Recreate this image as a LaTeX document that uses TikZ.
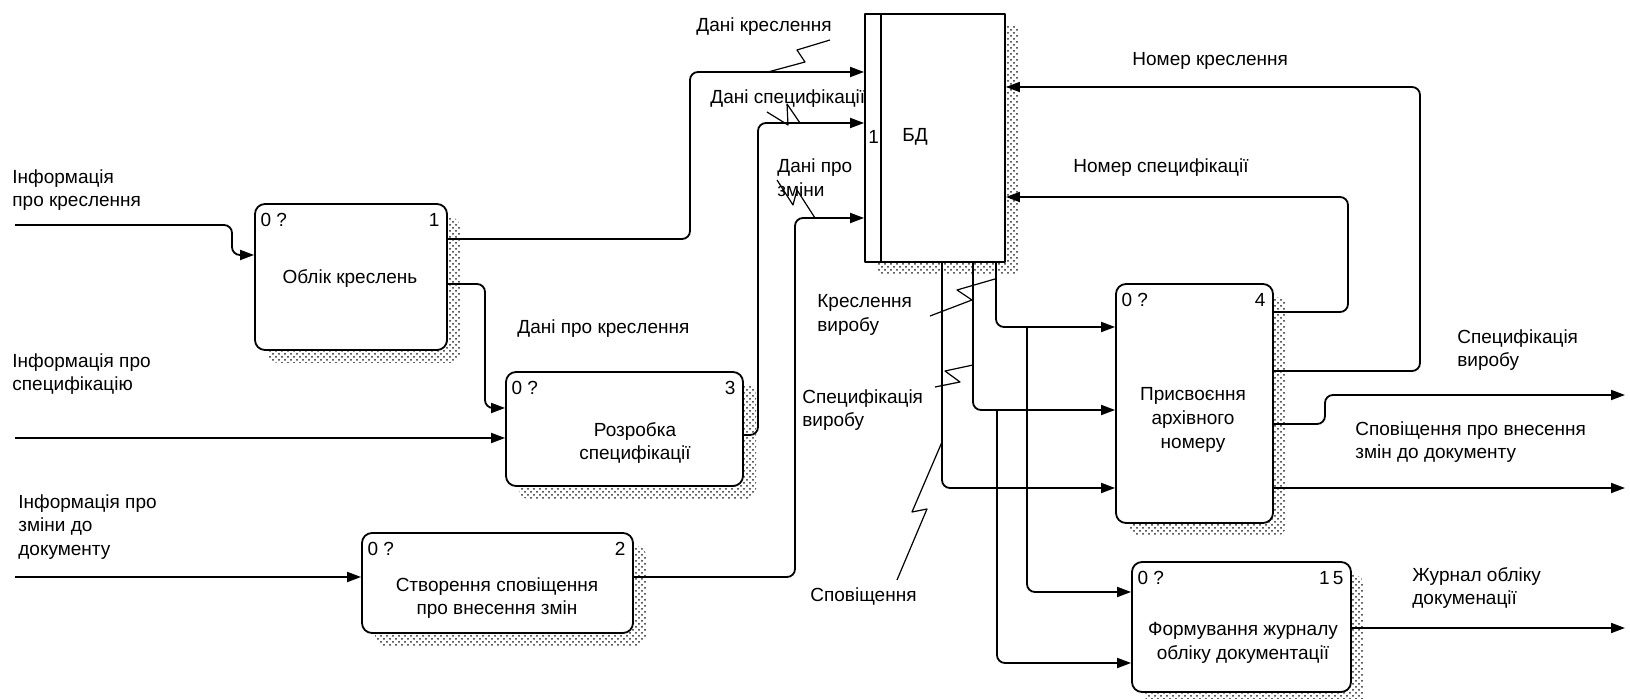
\documentclass[tikz,border=0pt]{standalone}
\usepackage{fontspec}
\setmainfont{Liberation Sans}
\usetikzlibrary{arrows.meta,patterns,shadows}
\tikzset{
  fn/.style={draw,line width=0.9pt,rounded corners=5pt,fill=white,
    general shadow={shadow xshift=6.5pt,shadow yshift=-6.5pt,pattern=crosshatch dots,pattern color=black!85}},
  con/.style={line width=0.9pt,rounded corners=4pt,->},
  zig/.style={line width=0.6pt},
  lbl/.style={align=left,anchor=west,inner sep=0pt},
  fntext/.style={align=center,inner sep=0pt},
  tagl/.style={anchor=north west,inner sep=0pt,xshift=3pt,yshift=-5pt},
  tagr/.style={anchor=north east,inner sep=0pt,xshift=-4pt,yshift=-5pt}
}
\begin{document}
\begin{tikzpicture}[x=0.5pt,y=-0.5pt,font=\fontsize{9.5}{11.8}\selectfont,line join=round,>={Triangle[length=7pt,width=5pt]}]
\useasboundingbox (0,0) rectangle (1630,699);
% functions
\node[fn,minimum width=96pt,minimum height=73pt] (b1) at (351,277) {};
\node[fn,minimum width=118.5pt,minimum height=57pt] (b3) at (624.5,429) {};
\node[fn,minimum width=135.5pt,minimum height=50pt] (b2) at (497.5,583) {};
\node[fn,minimum width=78.5pt,minimum height=119.5pt] (b4) at (1194.5,403.5) {};
\node[fn,minimum width=109.5pt,minimum height=65pt] (b5) at (1241.5,627) {};
\node[fn,rounded corners=0pt,minimum width=70pt,minimum height=124pt] (bd) at (935,138) {};
\draw[line width=0.9pt] ([xshift=8.5pt]bd.north west)--([xshift=8.5pt]bd.south west);
\node[anchor=west,inner sep=0pt] (bdn) at (868,137) {1};
\node[anchor=west,inner sep=0pt] (bdt) at (902,137) {БД};
\node[fntext] (b1t) at (350,279) {Облік креслень};
\node[fntext] (b3t) at (635,443) {Розробка\\специфікації};
\node[fntext] (b2t) at (497,598) {Створення сповіщення\\про внесення змін};
\node[fntext] (b4t) at (1193,420) {Присвоєння\\архівного\\номеру};
\node[fntext] (b5t) at (1243,643) {Формування журналу\\обліку документації};
\foreach \b in {b1,b3,b2,b4,b5}{\node[tagl] (\b q) at (\b.north west) {0 ?};}
\foreach \b/\n in {b1/1,b3/3,b2/2,b4/4,b5/1\,5}{\node[tagr] (\b n) at (\b.north east) {\n};}
% inputs
\coordinate (in1) at (15,225);
\coordinate (in3) at (15,438);
\coordinate (in2) at (15,577);
\draw[con] (in1)--(232,225)--(232,255)--(b1.west |- 0,255);
\draw[con] (in3)--(b3.west |- 0,438);
\draw[con] (in2)--(b2.west |- 0,577);
\node[lbl] (l1) at (12,190) {Інформація\\про креслення};
\node[lbl] (l3) at (12,374) {Інформація про\\специфікацію};
\node[lbl] (l2) at (18,527) {Інформація про\\зміни до\\документу};
% to the base
\draw[con] (b1.east |- 0,239)--(690,239)--(690,72)--(bd.west |- 0,72);
\draw[con] (b1.east |- 0,284)--(485,284)--(485,408)--(b3.west |- 0,408);
\draw[con] (b3.east |- 0,435)--(758,435)--(758,123)--(bd.west |- 0,123);
\draw[con] (b2.east |- 0,577)--(795,577)--(795,218)--(bd.west |- 0,218);
\node[lbl] (d1) at (696,27) {Дані креслення};
\node[lbl] (d2) at (710,99) {Дані специфікації};
\node[lbl] (d3) at (777,178) {Дані про\\зміни};
\node[lbl] (d4) at (517,329) {Дані про креслення};
\draw[zig] (830,40)--(797,50)--(805,62)--(768,72);
\draw[zig] (767,112)--(788,125)--(787,104)--(800,123);
\draw[zig] (777,180)--(793,205)--(797,190)--(815,218);
% from the base
\draw[con] (bd.south -| 996,0)--(996,327)--(b4.west |- 0,327);
\draw[con] (1027,327)--(1027,592)--(b5.west |- 0,592);
\draw[con] (bd.south -| 973,0)--(973,410)--(b4.west |- 0,410);
\draw[con] (997,410)--(997,663)--(b5.west |- 0,663);
\draw[con] (bd.south -| 942,0)--(942,488)--(b4.west |- 0,488);
\node[lbl] (k1) at (817,315) {Креслення\\виробу};
\node[lbl] (k2) at (802,410) {Специфікація\\виробу};
\node[lbl] (k3) at (810,597) {Сповіщення};
\draw[zig] (930,316)--(972,300)--(957,290)--(995,279);
\draw[zig] (935,387)--(960,382)--(945,371)--(973,365);
\draw[zig] (897,580)--(927,509)--(912,512)--(942,442);
% outputs
\draw[con] (b4.east |- 0,312)--(1348,312)--(1348,197)--(bd.east |- 0,197);
\draw[con] (b4.east |- 0,371)--(1420,371)--(1420,87)--(bd.east |- 0,87);
\coordinate (out1) at (1625,395);
\coordinate (out2) at (1625,488);
\coordinate (out3) at (1625,628);
\draw[con] (b4.east |- 0,424)--(1325,424)--(1325,395)--(out1);
\draw[con] (b4.east |- 0,488)--(out2);
\draw[con] (b5.east |- 0,628)--(out3);
\node[lbl] (n1) at (1132,61) {Номер креслення};
\node[lbl] (n2) at (1073,168) {Номер специфікації};
\node[lbl] (o1) at (1457,350) {Специфікація\\виробу};
\node[lbl] (o2) at (1355,442) {Сповіщення про внесення\\змін до документу};
\node[lbl] (o3) at (1412,588) {Журнал обліку\\докуменації};
\end{tikzpicture}
\end{document}
